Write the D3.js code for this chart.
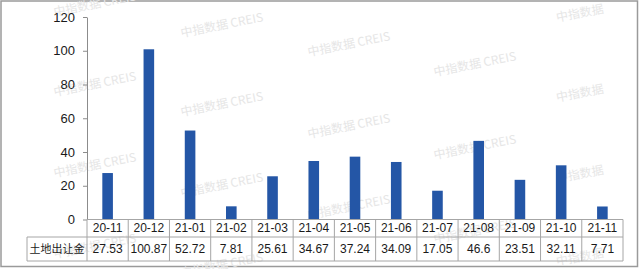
<!DOCTYPE html>
<html>
<head>
<meta charset="utf-8">
<script src="https://cdn.jsdelivr.net/npm/d3@7"></script>
<style>
  body { margin: 0; background: #fff; }
  svg { display: block; font-family: "Liberation Sans", Arial, sans-serif; }
</style>
</head>
<body>
<svg id="chart" width="640" height="269"></svg>
<script>
var months = ["20-11", "20-12", "21-01", "21-02", "21-03", "21-04", "21-05",
              "21-06", "21-07", "21-08", "21-09", "21-10", "21-11"];
var landFees = [27.53, 100.87, 52.72, 7.81, 25.61, 34.67, 37.24,
                34.09, 17.05, 46.6, 23.51, 32.11, 7.71];
var labelsShown = ["27.53", "100.87", "52.72", "7.81", "25.61", "34.67", "37.24",
                   "34.09", "17.05", "46.6", "23.51", "32.11", "7.71"];
var rowName = "土地出让金";
var yTicks = [0, 20, 40, 60, 80, 100, 120];

// watermark spots [x, y, full?]
var marks = [
  [95, 5, 1], [95, 85, 1], [95, 166, 1], [95, 247, 1],
  [222, 26, 1], [222, 105, 1], [222, 186, 1], [222, 266, 1],
  [349, 45, 1], [349, 127, 1], [349, 208, 1],
  [475, 65, 1], [475, 148, 1], [475, 232, 1],
  [580, 14, 0], [580, 94, 0], [580, 175, 0], [580, 258, 0]
];

var svg = d3.select("#chart");

var plotLeft = 87, plotRight = 623, plotTop = 17, base = 219.5;
var row1 = 237, row2 = 261, headLeft = 27;
var lineColor = "#a6a6a6";

var x = d3.scaleBand().domain(months).range([plotLeft, plotRight]).padding(0);
var y = d3.scaleLinear().domain([0, 120]).range([base, plotTop]);

// frame
svg.append("rect")
  .attr("x", 1).attr("y", 1).attr("width", 636.5).attr("height", 265.5)
  .attr("fill", "none").attr("stroke", "#9a9a9a").attr("stroke-width", 1.5);

// watermarks
var wm = svg.append("g")
  .style("font-family", "'Noto Sans CJK SC', sans-serif")
  .style("font-size", "12px")
  .attr("fill", "#e6e6e6");
wm.selectAll("text").data(marks).enter().append("text")
  .attr("text-anchor", "middle")
  .attr("dominant-baseline", "middle")
  .attr("transform", function(d) { return "translate(" + d[0] + "," + d[1] + ") rotate(-11)"; })
  .text(function(d) { return d[2] ? "中指数据  CREIS" : "中指数据"; });

// bars
var bw = 10.6;
svg.append("g").selectAll("rect").data(landFees).enter().append("rect")
  .attr("x", function(d, i) { return x(months[i]) + x.bandwidth() / 2 - bw / 2; })
  .attr("y", function(d) { return y(d); })
  .attr("width", bw)
  .attr("height", function(d) { return base - y(d); })
  .attr("fill", "#2456a6");

// y axis
var yAxis = svg.append("g")
  .attr("transform", "translate(" + plotLeft + ",0)")
  .call(d3.axisLeft(y).tickValues(yTicks).tickSize(4).tickPadding(8).tickSizeOuter(0));
yAxis.select(".domain").attr("stroke", "#8c8c8c");
yAxis.selectAll(".tick line").attr("stroke", "#8c8c8c");
yAxis.selectAll(".tick text")
  .attr("fill", "#1a1a1a")
  .style("font-size", "13px");

// data table
var table = svg.append("g").attr("stroke", lineColor).attr("stroke-width", 1).attr("fill", "none");
table.append("line").attr("x1", plotLeft).attr("x2", plotRight).attr("y1", base).attr("y2", base);
table.append("line").attr("x1", headLeft).attr("x2", plotRight).attr("y1", row1).attr("y2", row1);
table.append("line").attr("x1", headLeft).attr("x2", plotRight).attr("y1", row2).attr("y2", row2);
table.append("line").attr("x1", headLeft).attr("x2", headLeft).attr("y1", row1).attr("y2", row2);
table.selectAll(".col").data(months).enter().append("line")
  .attr("x1", function(d) { return x(d); })
  .attr("x2", function(d) { return x(d); })
  .attr("y1", base).attr("y2", row2);
table.append("line").attr("x1", plotRight).attr("x2", plotRight).attr("y1", base).attr("y2", row2);

svg.append("g").selectAll("text").data(months).enter().append("text")
  .attr("x", function(d) { return x(d) + x.bandwidth() / 2; })
  .attr("y", (base + row1) / 2 + 1)
  .attr("text-anchor", "middle")
  .attr("dominant-baseline", "middle")
  .attr("fill", "#1a1a1a")
  .style("font-size", "12px")
  .text(function(d) { return d; });

svg.append("g").selectAll("text").data(labelsShown).enter().append("text")
  .attr("x", function(d, i) { return x(months[i]) + x.bandwidth() / 2; })
  .attr("y", (row1 + row2) / 2 + 1)
  .attr("text-anchor", "middle")
  .attr("dominant-baseline", "middle")
  .attr("fill", "#1a1a1a")
  .style("font-size", "12px")
  .text(function(d) { return d; });

svg.append("text")
  .attr("x", (headLeft + plotLeft) / 2)
  .attr("y", (row1 + row2) / 2 + 1)
  .attr("text-anchor", "middle")
  .attr("dominant-baseline", "middle")
  .attr("fill", "#1a1a1a")
  .style("font-family", "'Noto Sans CJK SC', sans-serif")
  .style("font-size", "11px")
  .text(rowName);
</script>
</body>
</html>
